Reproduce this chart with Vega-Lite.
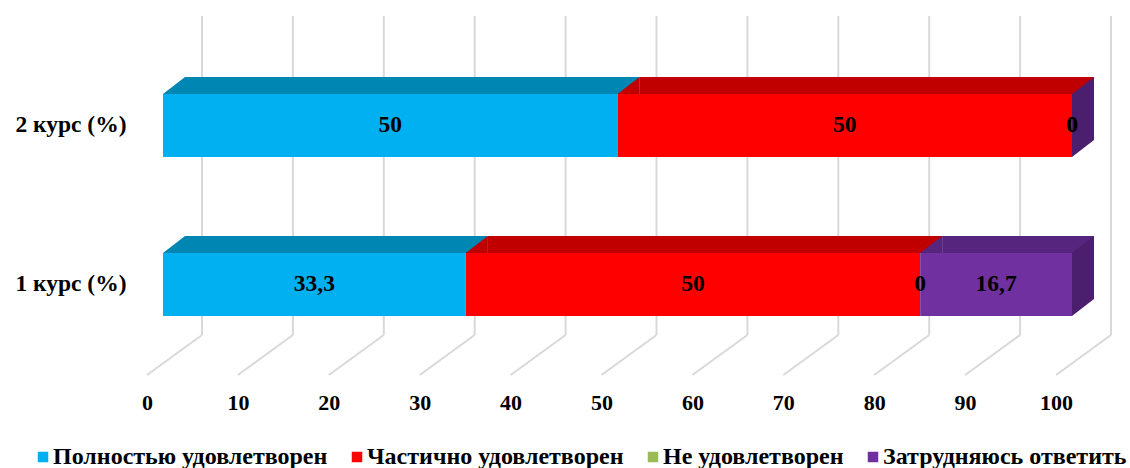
{
  "$schema": "https://vega.github.io/schema/vega-lite/v6.json",
  "width": 909,
  "height": 319,
  "autosize": "none",
  "padding": {"left": 163, "top": 16, "right": 58, "bottom": 133},
  "background": "white",
  "config": {
    "view": {"stroke": null},
    "font": "Liberation Serif",
    "locale": {"number": {"decimal": ",", "thousands": " ", "grouping": [3], "currency": ["", ""]}},
    "axisX": {"grid": false, "ticks": false, "domain": false, "labelFlush": false, "labelFont": "Liberation Serif", "labelFontWeight": "bold", "labelFontSize": 22, "labelColor": "black", "labelPadding": 57, "labelOffset": -16},
    "axisY": {"grid": false, "ticks": false, "domain": false, "labelFont": "Liberation Serif", "labelFontWeight": "bold", "labelFontSize": 23.5, "labelColor": "black", "labelPadding": 37}
  },
  "datasets": {
    "main": [
      {"course": "2 курс (%)", "category": "Полностью удовлетворен", "ord": 1, "value": 50},
      {"course": "2 курс (%)", "category": "Частично удовлетворен", "ord": 2, "value": 50},
      {"course": "2 курс (%)", "category": "Не удовлетворен", "ord": 3, "value": 0},
      {"course": "2 курс (%)", "category": "Затрудняюсь ответить", "ord": 4, "value": 0},
      {"course": "1 курс (%)", "category": "Полностью удовлетворен", "ord": 1, "value": 33.3},
      {"course": "1 курс (%)", "category": "Частично удовлетворен", "ord": 2, "value": 50},
      {"course": "1 курс (%)", "category": "Не удовлетворен", "ord": 3, "value": 0},
      {"course": "1 курс (%)", "category": "Затрудняюсь ответить", "ord": 4, "value": 16.7}
    ],
    "ticks": [{"t": 0}, {"t": 10}, {"t": 20}, {"t": 30}, {"t": 40}, {"t": 50}, {"t": 60}, {"t": 70}, {"t": 80}, {"t": 90}, {"t": 100}]
  },
  "layer": [
    {
      "data": {"name": "ticks"},
      "mark": {"type": "rule", "color": "#d9d9d9", "strokeWidth": 2, "xOffset": 39},
      "encoding": {
        "x": {"field": "t", "type": "quantitative", "title": null, "scale": {"domain": [0, 100], "nice": false}, "axis": {"values": [0, 10, 20, 30, 40, 50, 60, 70, 80, 90, 100]}}
      }
    },
    {
      "data": {"name": "ticks"},
      "mark": {"type": "rule", "color": "#d9d9d9", "strokeWidth": 2, "xOffset": 39, "x2Offset": -16, "yOffset": 50.5, "y2Offset": 90.5},
      "encoding": {
        "x": {"field": "t", "type": "quantitative", "title": null},
        "x2": {"field": "t"},
        "y": {"datum": "1 курс (%)", "type": "nominal", "title": null, "scale": {"domain": ["2 курс (%)", "1 курс (%)"], "paddingInner": 0.6038, "paddingOuter": 0.305, "align": 0.804}},
        "y2": {"datum": "1 курс (%)"}
      }
    },
    {
      "data": {"name": "main"},
      "transform": [
        {"stack": "value", "groupby": ["course"], "sort": [{"field": "ord", "order": "ascending"}], "as": ["x0", "x1"]},
        {"filter": "datum.category === 'Затрудняюсь ответить'"}
      ],
      "mark": {"type": "bar", "color": "#4b1f6e", "height": 46, "yOffset": -8.5, "x2Offset": 22},
      "encoding": {
        "x": {"field": "x1", "type": "quantitative", "title": null},
        "x2": {"field": "x1"},
        "y": {"field": "course", "type": "nominal", "title": null}
      }
    },
    {
      "data": {"name": "main"},
      "transform": [
        {"stack": "value", "groupby": ["course"], "sort": [{"field": "ord", "order": "ascending"}], "as": ["x0", "x1"]},
        {"filter": "datum.value > 0"}
      ],
      "mark": {"type": "bar", "height": 17, "yOffset": -40, "xOffset": 22, "x2Offset": 22},
      "encoding": {
        "x": {"field": "x0", "type": "quantitative", "title": null},
        "x2": {"field": "x1"},
        "y": {"field": "course", "type": "nominal", "title": null},
        "fill": {"field": "category", "type": "nominal", "legend": null, "scale": {"domain": ["Затрудняюсь ответить", "Не удовлетворен", "Полностью удовлетворен", "Частично удовлетворен"], "range": ["#56267e", "#7a9a3e", "#0086b3", "#c00000"]}}
      }
    },
    {
      "data": {"name": "main"},
      "transform": [
        {"stack": "value", "groupby": ["course"], "sort": [{"field": "ord", "order": "ascending"}], "as": ["x0", "x1"]}
      ],
      "mark": {"type": "bar"},
      "encoding": {
        "x": {"field": "x0", "type": "quantitative", "title": null},
        "x2": {"field": "x1"},
        "y": {"field": "course", "type": "nominal", "title": null},
        "color": {"field": "category", "type": "nominal", "scale": {"domain": ["Полностью удовлетворен", "Частично удовлетворен", "Не удовлетворен", "Затрудняюсь ответить"], "range": ["#00b0f0", "#ff0000", "#9bbb59", "#7030a0"]},
          "legend": {"orient": "none", "legendX": -132, "legendY": 429, "direction": "horizontal", "title": null, "symbolType": "square", "symbolSize": 110, "symbolStrokeWidth": 0, "labelFont": "Liberation Serif", "labelFontWeight": "bold", "labelFontSize": 24, "labelColor": "black", "labelLimit": 400, "columnPadding": 17, "labelOffset": -2}}
      }
    },
    {
      "data": {"name": "main"},
      "transform": [
        {"stack": "value", "groupby": ["course"], "sort": [{"field": "ord", "order": "ascending"}], "as": ["x0", "x1"]},
        {"filter": "datum.value > 0"}
      ],
      "mark": {"type": "point", "shape": "M0,0L2,-1.545L2,0Z", "size": 484, "filled": true, "opacity": 1, "strokeWidth": 0, "yOffset": -31.5},
      "encoding": {
        "x": {"field": "x0", "type": "quantitative", "title": null},
        "y": {"field": "course", "type": "nominal", "title": null},
        "fill": {"field": "category", "type": "nominal", "legend": null}
      }
    },
    {
      "data": {"name": "main"},
      "transform": [
        {"stack": "value", "groupby": ["course"], "sort": [{"field": "ord", "order": "ascending"}], "as": ["x0", "x1"]},
        {"filter": "datum.category === 'Затрудняюсь ответить'"}
      ],
      "mark": {"type": "point", "shape": "M0,0L2,-1.545L2,0Z", "size": 484, "filled": true, "opacity": 1, "strokeWidth": 0, "yOffset": -31.5, "color": "#4b1f6e"},
      "encoding": {
        "x": {"field": "x1", "type": "quantitative", "title": null},
        "y": {"field": "course", "type": "nominal", "title": null}
      }
    },
    {
      "data": {"name": "main"},
      "transform": [
        {"stack": "value", "groupby": ["course"], "sort": [{"field": "ord", "order": "ascending"}], "as": ["x0", "x1"]},
        {"filter": "datum.category === 'Затрудняюсь ответить'"}
      ],
      "mark": {"type": "point", "shape": "M0,0L2,0L0,1.545Z", "size": 484, "filled": true, "opacity": 1, "strokeWidth": 0, "yOffset": 14.5, "color": "#4b1f6e"},
      "encoding": {
        "x": {"field": "x1", "type": "quantitative", "title": null},
        "y": {"field": "course", "type": "nominal", "title": null}
      }
    },
    {
      "data": {"name": "main"},
      "mark": {"type": "text", "font": "Liberation Serif", "fontWeight": "bold", "fontSize": 23.5, "color": "black", "baseline": "middle", "align": "center"},
      "encoding": {
        "x": {"field": "value", "type": "quantitative", "stack": "zero", "bandPosition": 0.5, "title": null},
        "y": {"field": "course", "type": "nominal", "title": null},
        "detail": {"field": "category"},
        "order": {"field": "ord", "type": "quantitative"},
        "text": {"field": "value", "type": "quantitative", "format": ".1~f"}
      }
    }
  ]
}
